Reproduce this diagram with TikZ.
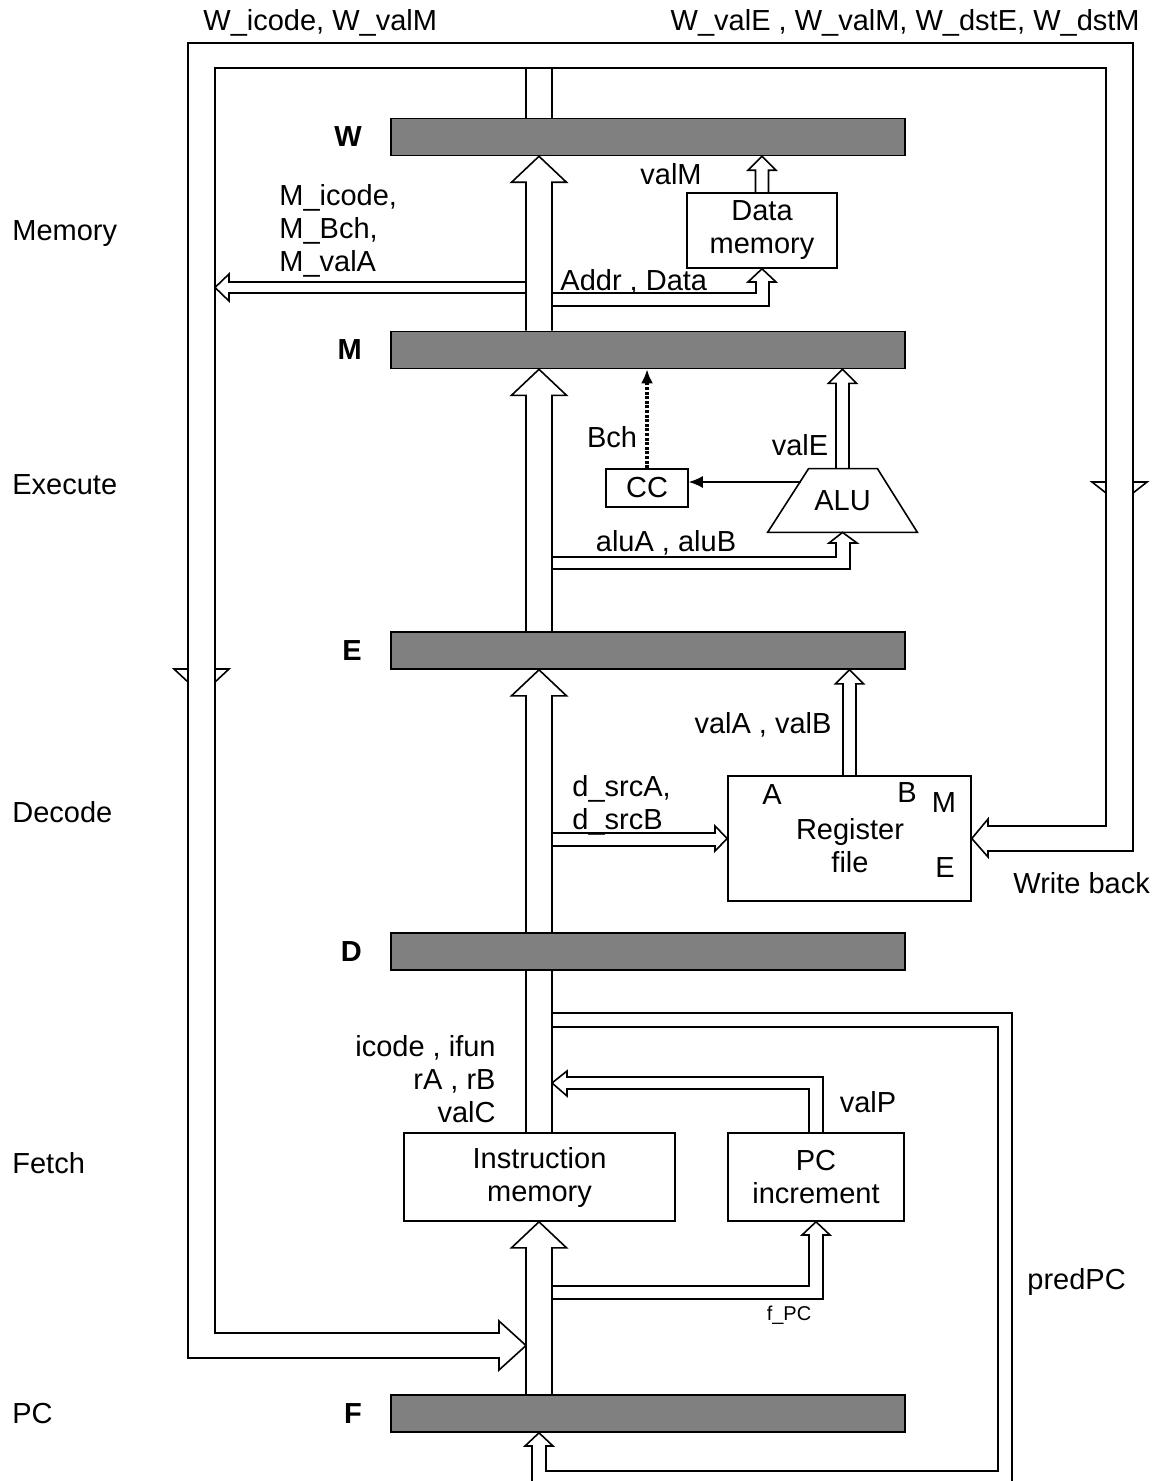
\documentclass[tikz,border=0pt]{standalone}
\usepackage{fontspec}
\setmainfont{Liberation Sans}
\usepackage{tikz}
\usetikzlibrary{arrows.meta,positioning,calc}
\newcommand{\dsz}{\fontsize{14.5}{16.5}\selectfont}
\tikzset{
  reg/.style={rectangle, draw, fill=gray, line width=0.8pt, minimum width=257pt,
              minimum height=18.5pt, inner sep=0pt},
  unit/.style={rectangle, draw, line width=0.8pt, align=center, inner sep=0pt, font=\dsz},
  lab/.style={inner sep=0pt, font=\dsz},
  reglab/.style={inner sep=0pt, font=\dsz\bfseries},
  bus/.style={line width=0.8pt, line join=miter},
  sig/.style={-{Latex[length=7pt,width=6pt]}, line width=0.8pt},
  flagline/.style={sig, line width=1.8pt, dash pattern=on 1.5pt off 0.8pt},
}
% hollow arrow going up: tip, tail, half shaft, half wing, head length
\newcommand{\upbus}[5]{\draw[bus] let \p1=(#1), \p2=(#2) in
  (\x1-#3,\y2) -- (\x1-#3,\y1-#5) -- (\x1-#4,\y1-#5) -- (\p1)
  -- (\x1+#4,\y1-#5) -- (\x1+#3,\y1-#5) -- (\x1+#3,\y2);}
\newcommand{\wideup}[2]{\upbus{#1}{#2}{6.5pt}{13.75pt}{13pt}}
\newcommand{\thinup}[2]{\upbus{#1}{#2}{3.25pt}{7pt}{7pt}}
\begin{document}
\begin{tikzpicture}[x=0.5pt, y=-0.5pt]
  \useasboundingbox (0,0) rectangle (1160,1481);
  % pipeline registers
  \node[reg] (W) at (648,137) {};
  \node[reg] (M) at (648,350) {};
  \node[reg] (E) at (648,650.5) {};
  \node[reg] (D) at (648,951.5) {};
  \node[reg] (F) at (648,1413.5) {};
  \foreach \r in {W,M,E,D,F}
    \node[reglab, left=14pt of \r] {\r};
  % stages
  \node[lab, anchor=west] at (12,234) {Memory};
  \node[lab, anchor=west] at (12,485) {Execute};
  \node[lab, anchor=west] at (12,812) {Decode};
  \node[lab, anchor=west] at (12,1163) {Fetch};
  \node[lab, anchor=west] at (12,1413) {PC};
  % units
  \node[unit, minimum width=75pt, minimum height=37.5pt] (dmem) at (762,230.5) {Data\\memory};
  \node[unit, minimum width=41pt, minimum height=19pt] (cc) at (647,488) {CC};
  \node[lab, minimum width=74.5pt, minimum height=31.5pt] (alu) at (842.5,500.5) {ALU};
  \draw[bus] (alu.south west) -- ([xshift=20.5pt]alu.north west)
    -- ([xshift=-20pt]alu.north east) -- (alu.south east) -- cycle;
  \node[unit, minimum width=121.5pt, minimum height=62.5pt] (rf) at (849.5,838.5) {};
  \node[lab, align=center] at (850,846) {Register\\file};
  \node[lab] at (772,795) {A};
  \node[lab] at (907,793) {B};
  \node[lab] at (944,803) {M};
  \node[lab] at (945,868) {E};
  \node[unit, minimum width=135.5pt, minimum height=44pt] (imem) at (539.5,1177) {Instruction\\memory};
  \node[unit, minimum width=88pt, minimum height=44pt] (pcinc) at (816,1177) {PC\\increment};
  % main bus
  \coordinate (bus) at (539,0);
  \coordinate (busL) at (526,0);
  \coordinate (busR) at (552,0);
  \draw[bus] (busL|-W.north) -- (526,68);
  \draw[bus] (busR|-W.north) -- (552,68);
  \wideup{bus|-W.south}{bus|-M.north}
  \wideup{bus|-M.south}{bus|-E.north}
  \wideup{bus|-E.south}{bus|-D.north}
  \draw[bus] (busL|-D.south) -- (busL|-imem.north);
  \draw[bus] (busR|-D.south) -- (busR|-imem.north);
  \wideup{bus|-imem.south}{bus|-F.north}
  % write back loop
  \draw[bus] (rf.east) -- (988,857) -- (988,851) -- (1133,851) -- (1133,43) -- (188,43)
    -- (188,1358) -- (499,1358) -- (499,1370) -- (526,1345.5) -- (499,1321) -- (499,1333)
    -- (215,1333) -- (215,68) -- (1106,68) -- (1106,826) -- (988,826) -- (988,819) -- cycle;
  \draw[bus] (188,682) -- (174,669) -- (188,669);
  \draw[bus] (215,682) -- (229,669) -- (215,669);
  \draw[bus] (1106,493) -- (1092,482) -- (1106,482);
  \draw[bus] (1133,493) -- (1147,482) -- (1133,482);
  % memory
  \draw[bus] (526,282) -- (229,282) -- (229,274) -- (215,287.5) -- (229,301) -- (229,293) -- (526,293);
  \draw[bus] (552,293) -- (756,293) -- (756,282) -- (748,282) -- (dmem.south)
    -- (776,282) -- (769,282) -- (769,306) -- (552,306);
  \thinup{dmem.north|-W.south}{dmem.north}
  % execute
  \thinup{alu.north|-M.south}{alu.north}
  \draw[bus] (552,557) -- (836,557) -- (836,543) -- (829,543) -- (alu.south)
    -- (857,543) -- (850,543) -- (850,569) -- (552,569);
  \coordinate (flag) at (800.5,482);
  \draw[sig] (flag) -- (flag-|cc.east);
  \draw[flagline] (cc.north) -- (cc.north|-M.south);
  % decode
  \thinup{rf.north|-E.south}{rf.north}
  \draw[bus] (552,833) -- (715,833) -- (715,826) -- (rf.west) -- (715,851) -- (715,846) -- (552,846);
  % fetch
  \draw[bus] (809,1133) -- (809,1089) -- (567,1089) -- (567,1096) -- (552,1083)
    -- (567,1071) -- (567,1077) -- (823,1077) -- (823,1133);
  \draw[bus] (552,1286) -- (809,1286) -- (809,1235) -- (802,1235) -- (pcinc.south)
    -- (830,1235) -- (823,1235) -- (823,1299) -- (552,1299);
  \draw[bus] (552,1013) -- (1012,1013) -- (1012,1481);
  \draw[bus] (552,1027) -- (998,1027) -- (998,1471) -- (546,1471) -- (546,1446) -- (553,1446)
    -- (bus|-F.south) -- (525,1446) -- (532,1446) -- (532,1481);
  % signal labels
  \node[lab, anchor=west] at (203,23) {W\_icode, W\_valM};
  \node[lab, anchor=east] at (1140,23) {W\_valE , W\_valM, W\_dstE, W\_dstM};
  \node[lab, anchor=west, align=left] at (279,231) {M\_icode,\\M\_Bch,\\M\_valA};
  \node[lab, anchor=west] at (560,282) {Addr , Data};
  \node[lab] at (671,174) {valM};
  \node[lab] at (612,437) {Bch};
  \node[lab] at (800,445) {valE};
  \node[lab] at (666,543) {aluA , aluB};
  \node[lab] at (763,725) {valA , valB};
  \node[lab, anchor=west, align=left] at (572,805) {d\_srcA,\\d\_srcB};
  \node[lab, anchor=west] at (1013,883) {Write back};
  \node[lab, anchor=east, align=right] at (496,1079) {icode , ifun\\rA , rB\\valC};
  \node[lab] at (868,1102) {valP};
  \node[lab, anchor=west] at (1027,1282) {predPC};
  \node[lab, font=\fontsize{10}{12}\selectfont] at (789,1315) {f\_PC};
\end{tikzpicture}
\end{document}
